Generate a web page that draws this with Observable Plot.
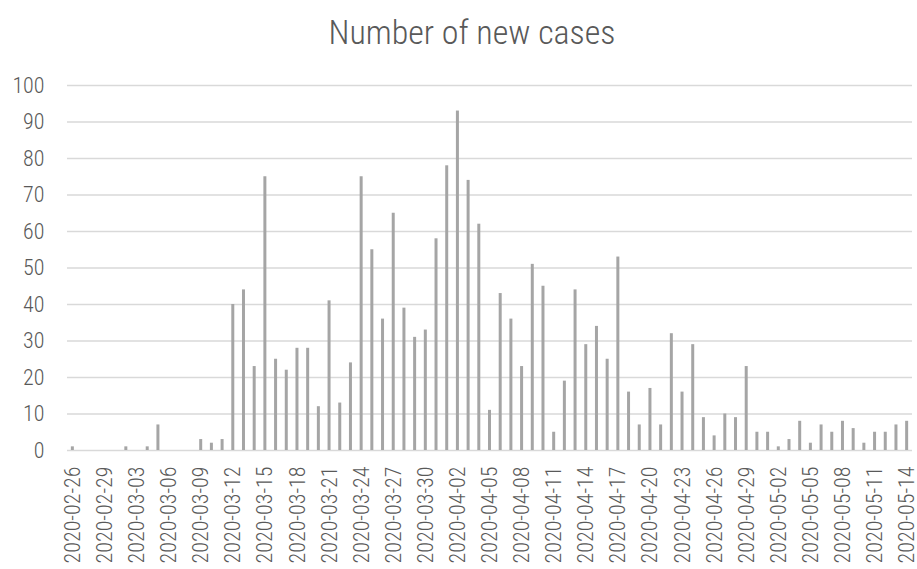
<!DOCTYPE html>
<html>
<head>
<meta charset="utf-8">
<script src="https://cdn.jsdelivr.net/npm/d3@7"></script>
<script src="https://cdn.jsdelivr.net/npm/@observablehq/plot@0.6"></script>
<style>
  html, body { margin: 0; padding: 0; background: #fff; overflow: hidden; }
  #title { height: 70px; box-sizing: border-box; padding-top: 14px; padding-left: 27px; text-align: center;
    font-family: Roboto, "Liberation Sans", sans-serif; font-weight: 300; font-stretch: condensed;
    font-size: 34px; line-height: 36px; color: #595959; }
  #chart svg text { font-stretch: condensed; }
</style>
</head>
<body>
<div id="title">Number of new cases</div>
<div id="chart"></div>
<script>
const dates = [
  "2020-02-26","2020-02-27","2020-02-28","2020-02-29","2020-03-01","2020-03-02","2020-03-03","2020-03-04","2020-03-05","2020-03-06",
  "2020-03-07","2020-03-08","2020-03-09","2020-03-10","2020-03-11","2020-03-12","2020-03-13","2020-03-14","2020-03-15","2020-03-16",
  "2020-03-17","2020-03-18","2020-03-19","2020-03-20","2020-03-21","2020-03-22","2020-03-23","2020-03-24","2020-03-25","2020-03-26",
  "2020-03-27","2020-03-28","2020-03-29","2020-03-30","2020-03-31","2020-04-01","2020-04-02","2020-04-03","2020-04-04","2020-04-05",
  "2020-04-06","2020-04-07","2020-04-08","2020-04-09","2020-04-10","2020-04-11","2020-04-12","2020-04-13","2020-04-14","2020-04-15",
  "2020-04-16","2020-04-17","2020-04-18","2020-04-19","2020-04-20","2020-04-21","2020-04-22","2020-04-23","2020-04-24","2020-04-25",
  "2020-04-26","2020-04-27","2020-04-28","2020-04-29","2020-04-30","2020-05-01","2020-05-02","2020-05-03","2020-05-04","2020-05-05",
  "2020-05-06","2020-05-07","2020-05-08","2020-05-09","2020-05-10","2020-05-11","2020-05-12","2020-05-13","2020-05-14"
];
const newCases = [
  1,0,0,0,0,1,0,1,7,0,
  0,0,3,2,3,40,44,23,75,25,
  22,28,28,12,41,13,24,75,55,36,
  65,39,31,33,58,78,93,74,62,11,
  43,36,23,51,45,5,19,44,29,34,
  25,53,16,7,17,7,32,16,29,9,
  4,10,9,23,5,5,1,3,8,2,
  7,5,8,6,2,5,5,7,8
];
const xTickLabels = ["2020-02-26","2020-02-29","2020-03-03","2020-03-06","2020-03-09","2020-03-12","2020-03-15","2020-03-18",
  "2020-03-21","2020-03-24","2020-03-27","2020-03-30","2020-04-02","2020-04-05","2020-04-08","2020-04-11","2020-04-14",
  "2020-04-17","2020-04-20","2020-04-23","2020-04-26","2020-04-29","2020-05-02","2020-05-05","2020-05-08","2020-05-11","2020-05-14"];
const yTicks = [0,10,20,30,40,50,60,70,80,90,100];

const data = dates.map((d, i) => ({date: d, cases: newCases[i]}));

const chart = Plot.plot({
  width: 917,
  height: 499,
  marginTop: 15,
  marginLeft: 67,
  marginRight: 5,
  marginBottom: 119,
  style: {fontFamily: "Roboto, 'Liberation Sans', sans-serif", fontSize: "22px", color: "#595959", background: "#fff"},
  x: {type: "band", domain: dates, paddingInner: 0.72, paddingOuter: 0.36, label: null},
  y: {domain: [0, 100], label: null},
  marks: [
    Plot.gridY(yTicks, {stroke: "#d9d9d9", strokeOpacity: 1, strokeWidth: 1.3}),
    Plot.barY(data, {x: "date", y: "cases", fill: "#a5a5a5"}),
    Plot.axisY(yTicks, {tickSize: 0, tickPadding: 23, fontSize: 22, fontWeight: 300, label: null}),
    Plot.axisX(xTickLabels, {tickSize: 0, tickPadding: 16, tickRotate: -90, fontSize: 22, fontWeight: 300, label: null})
  ]
});
document.getElementById("chart").appendChild(chart);
</script>
</body>
</html>
